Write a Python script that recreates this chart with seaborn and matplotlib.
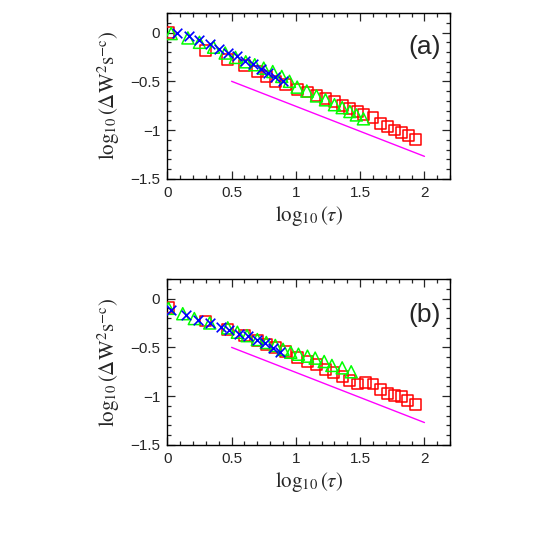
import matplotlib
matplotlib.use('Agg')
import matplotlib.pyplot as plt
import seaborn as sns
from matplotlib.ticker import MultipleLocator

sns.set_style("ticks")
plt.rcParams['font.family'] = ['Liberation Sans', 'DejaVu Sans']
plt.rcParams['mathtext.fontset'] = 'stix'

# panel (a)
a_red_x = [0.01, 0.30, 0.47, 0.60, 0.70, 0.77, 0.84, 0.92, 1.01, 1.09, 1.16, 1.23,
           1.30, 1.36, 1.42, 1.48, 1.525, 1.60, 1.655, 1.715, 1.77, 1.82, 1.875, 1.93]
a_red_y = [0.0, -0.185, -0.28, -0.34, -0.40, -0.45, -0.50, -0.53, -0.58, -0.61, -0.65, -0.68,
           -0.71, -0.745, -0.78, -0.81, -0.84, -0.87, -0.93, -0.96, -1.0, -1.03, -1.06, -1.10]
a_green_x = [0.03, 0.16, 0.25, 0.36, 0.45, 0.53, 0.61, 0.68, 0.75, 0.82, 0.89, 0.95,
             1.01, 1.085, 1.16, 1.23, 1.30, 1.36, 1.42, 1.47, 1.525]
a_green_y = [-0.01, -0.055, -0.10, -0.15, -0.21, -0.255, -0.30, -0.33, -0.365, -0.40, -0.45, -0.50,
             -0.56, -0.60, -0.65, -0.69, -0.74, -0.77, -0.81, -0.845, -0.885]
a_blue_x = [0.075, 0.165, 0.25, 0.33, 0.405, 0.475, 0.54, 0.605, 0.665, 0.727, 0.786, 0.84, 0.90]
a_blue_y = [0.0, -0.04, -0.08, -0.118, -0.168, -0.21, -0.245, -0.288, -0.32, -0.37, -0.41, -0.46, -0.50]

# panel (b)
b_red_x = [0.01, 0.30, 0.47, 0.60, 0.70, 0.77, 0.84, 0.92, 1.01, 1.09, 1.16, 1.23,
           1.29, 1.36, 1.42, 1.48, 1.54, 1.60, 1.655, 1.715, 1.767, 1.82, 1.87, 1.93]
b_red_y = [-0.09, -0.23, -0.32, -0.38, -0.43, -0.47, -0.50, -0.54, -0.60, -0.645, -0.68, -0.73,
           -0.76, -0.80, -0.84, -0.875, -0.86, -0.875, -0.93, -0.97, -0.99, -1.0, -1.04, -1.085]
b_green_x = [0.01, 0.12, 0.21, 0.33, 0.47, 0.545, 0.62, 0.70, 0.77, 0.84, 0.90, 0.96,
             1.02, 1.09, 1.15, 1.22, 1.28, 1.36, 1.43]
b_green_y = [-0.10, -0.155, -0.205, -0.25, -0.30, -0.345, -0.38, -0.42, -0.45, -0.48, -0.52, -0.55,
             -0.57, -0.59, -0.61, -0.645, -0.685, -0.71, -0.75]
b_blue_x = [0.03, 0.145, 0.24, 0.33, 0.42, 0.48, 0.56, 0.63, 0.70, 0.76, 0.82, 0.88]
b_blue_y = [-0.12, -0.165, -0.215, -0.25, -0.29, -0.325, -0.36, -0.385, -0.42, -0.46, -0.505, -0.55]

# reference slope line
line_x = [0.5, 2.0]
line_y = [-0.5, -1.27]

panels = [
    ('(a)', a_red_x, a_red_y, a_green_x, a_green_y, a_blue_x, a_blue_y, -0.15),
    ('(b)', b_red_x, b_red_y, b_green_x, b_green_y, b_blue_x, b_blue_y, -0.165),
]

fig = plt.figure(figsize=(5.45, 5.45), dpi=100)
rects = [[0.307, 0.672, 0.519, 0.304], [0.307, 0.1835, 0.519, 0.3045]]

for rect, (tag, rx, ry, gx, gy, bx, by, ty) in zip(rects, panels):
    ax = fig.add_axes(rect)
    sns.lineplot(x=line_x, y=line_y, color='#ff00ff', linewidth=1.0, ax=ax)
    sns.scatterplot(x=rx, y=ry, marker='s', s=62, facecolor='none',
                    edgecolor='#ff0000', linewidth=1.1, ax=ax, zorder=3)
    sns.scatterplot(x=gx, y=gy, marker='^', s=75, facecolor='none',
                    edgecolor='#00ff00', linewidth=1.1, ax=ax, zorder=4)
    sns.scatterplot(x=bx, y=by, marker='x', s=48, color='#0000ff',
                    linewidth=1.2, ax=ax, zorder=5)
    ax.set_xlim(0, 2.2)
    ax.set_ylim(-1.5, 0.2)
    ax.xaxis.set_major_locator(MultipleLocator(0.5))
    ax.xaxis.set_minor_locator(MultipleLocator(0.1))
    ax.yaxis.set_major_locator(MultipleLocator(0.5))
    ax.yaxis.set_minor_locator(MultipleLocator(0.1))
    ax.set_xticks([0, 0.5, 1, 1.5, 2])
    ax.set_xticklabels(['0', '0.5', '1', '1.5', '2'])
    ax.set_yticks([-1.5, -1, -0.5, 0])
    ax.set_yticklabels(['\u22121.5', '\u22121', '\u22120.5', '0'])
    ax.tick_params(which='both', direction='in', top=True, right=True, labelsize=11, width=0.9)
    ax.tick_params(which='major', length=6, pad=5)
    ax.tick_params(which='minor', length=3)
    for sp in ax.spines.values():
        sp.set_linewidth(1.0)
        sp.set_color('black')
    ax.set_xlabel(r'$\log_{10}(\tau)$', fontsize=15, labelpad=3)
    ax.set_ylabel(r'$\log_{10}(\Delta \mathrm{W}^2\mathrm{s}^{-\mathrm{c}})$', fontsize=15, labelpad=6)
    ax.text(2.13, ty, tag, fontsize=19, ha='right', va='center', family='Liberation Sans')

fig.savefig('out.png', dpi=100)
